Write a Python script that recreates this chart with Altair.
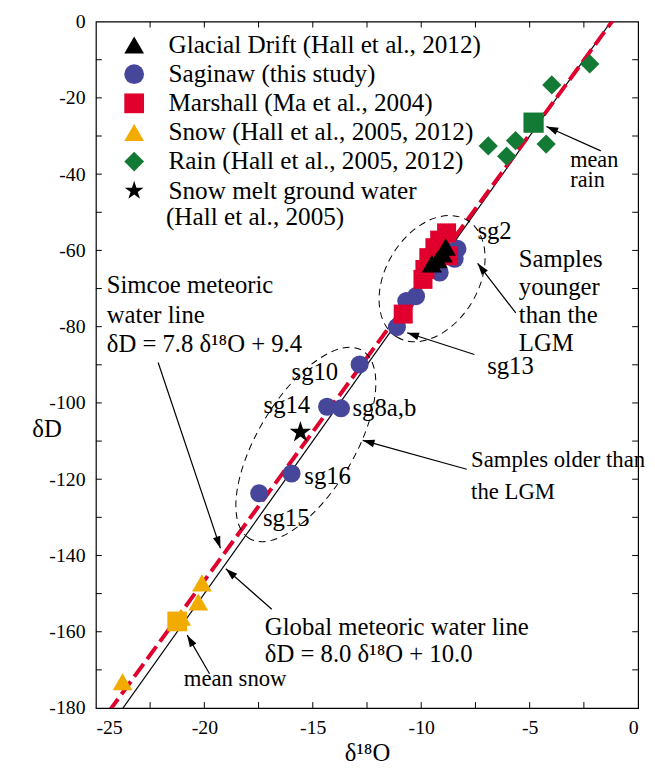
import math
import altair as alt
import pandas as pd

FONT = "Liberation Serif"
W, H = 549, 695
X_DOMAIN = [-25, 0]
Y_DOMAIN = [-180, 0]

# ---------------- data ----------------
series_names = [
    "Glacial Drift (Hall et al., 2012)",
    "Saginaw (this study)",
    "Marshall (Ma et al., 2004)",
    "Snow (Hall et al., 2005, 2012)",
    "Rain (Hall et al., 2005, 2012)",
    "Snow melt ground water",
]
glacial_x = [-9.51, -9.24, -9.01, -8.87]
glacial_y = [-63.5, -62.4, -60.9, -59.1]
saginaw_x = [-8.33, -8.46, -9.15, -10.24, -10.69, -11.12, -12.84, -14.34, -13.70, -15.98, -17.47]
saginaw_y = [-59.6, -62.2, -65.8, -72.0, -73.3, -80.1, -89.9, -101.0, -101.4, -118.5, -123.7]
marshall_x = [-8.83, -9.15, -9.37, -8.74, -9.65, -9.83, -9.92, -10.83]
marshall_y = [-55.4, -57.3, -59.3, -61.4, -61.9, -65.0, -67.6, -76.7]
snow_x = [-20.11, -20.28, -21.07, -23.77]
snow_y = [-147.2, -152.2, -156.2, -173.1]
rain_x = [-2.23, -3.98, -5.65, -6.06, -4.24, -6.91]
rain_y = [-11.1, -16.6, -31.2, -35.3, -32.1, -32.6]
melt_x = [-15.57]
melt_y = [-107.7]
mean_snow_x, mean_snow_y = [-21.25], [-157.3]
mean_rain_x, mean_rain_y = [-4.82], [-26.5]

# meteoric water lines: dD = slope * d18O + intercept
line_names = ["Global", "Simcoe"]
line_slopes = [8.0, 7.8]
line_intercepts = [10.0, 9.4]

# ellipses (centre in data units)
ell_x = [-9.50, -15.32]
ell_y = [-67.4, -110.9]

# annotations
ann_text = ["Simcoe meteoric", "water line", "δD = 7.8 δ¹⁸O + 9.4",
            "Global meteoric water line", "δD = 8.0 δ¹⁸O + 10.0",
            "mean snow", "mean", "rain", "sg2",
            "Samples", "younger", "than the", "LGM", "sg13",
            "sg10", "sg14", "sg8a,b", "sg16", "sg15",
            "Samples older than", "the LGM", "(Hall et al., 2005)"]
ann_x = [-24.50, -24.50, -24.50, -17.21, -17.21, -20.95, -3.13, -3.13, -7.41,
         -5.50, -5.50, -5.50, -5.50, -6.96,
         -15.98, -17.27, -13.17, -15.39, -17.30,
         -7.70, -7.70, -21.77]
ann_y = [-69.2, -76.9, -84.7, -158.8, -165.8, -172.3, -36.3, -41.6, -54.9,
         -62.4, -69.7, -76.9, -84.2, -90.4,
         -92.0, -100.5, -101.3, -119.2, -130.3,
         -115.0, -123.5, -51.3]
ann_size = [25, 25, 25, 25, 25, 23, 22.5, 22.5, 25,
            25, 25, 25, 25, 25,
            25, 25, 25, 25, 25,
            23, 23, 25.5]

# arrows: tail -> head
arr_tx = [-22.13, -16.89, -19.76, -1.72, -7.55, -5.64, -7.90]
arr_ty = [-89.4, -154.1, -171.0, -33.9, -87.3, -76.4, -117.4]
arr_hx = [-19.26, -19.01, -20.79, -4.23, -10.65, -7.40, -12.70]
arr_hy = [-138.1, -143.5, -160.9, -27.5, -81.6, -63.4, -109.8]

x_ticks = [-22.5, -20, -17.5, -15, -12.5, -10, -7.5, -5, -2.5]
y_ticks = [-170, -160, -150, -140, -130, -120, -110, -100, -90, -80, -70,
           -60, -50, -40, -30, -20, -10]
x_labels = [-25, -20, -15, -10, -5, 0]
y_labels = [-180, -160, -140, -120, -100, -80, -60, -40, -20, 0]

# ---------------- styles ----------------
series_colors = ["black", "#46469b", "#e1002d", "#f2ab00", "#137a36", "black"]
STAR = ("M0,-1L0.2245,-0.309L0.951,-0.309L0.363,0.118L0.588,0.809L0,0.382"
        "L-0.588,0.809L-0.363,0.118L-0.951,-0.309L-0.2245,-0.309Z")
series_shapes = ["triangle-up", "circle", "square", "triangle-up", "diamond", STAR]
size_map = {series_names[0]: 420, series_names[1]: 335, series_names[2]: 370,
            series_names[3]: 400, series_names[4]: 380, series_names[5]: 520}
ARROW = "M0,0L0.32,1L-0.32,1Z"

# ---------------- tables ----------------
rows = []
for name, xs_, ys_ in [(series_names[1], saginaw_x, saginaw_y),
                       (series_names[2], marshall_x, marshall_y),
                       (series_names[0], glacial_x, glacial_y),
                       (series_names[3], snow_x, snow_y),
                       (series_names[4], rain_x, rain_y),
                       (series_names[5], melt_x, melt_y)]:
    for a, b in zip(xs_, ys_):
        rows.append({"series": name, "x": a, "y": b, "sz": size_map[name]})
pts = pd.DataFrame(rows)

line_rows = []
for n, s, c in zip(line_names, line_slopes, line_intercepts):
    for xv in X_DOMAIN:
        line_rows.append({"name": n, "x": xv, "y": s * xv + c})
lines = pd.DataFrame(line_rows)

ann = pd.DataFrame({"x": ann_x, "y": ann_y, "text": ann_text, "fs": ann_size})

sx = W / (X_DOMAIN[1] - X_DOMAIN[0])
sy = H / (Y_DOMAIN[1] - Y_DOMAIN[0])
angles = []
for tx, ty, hx, hy in zip(arr_tx, arr_ty, arr_hx, arr_hy):
    dx = (hx - tx) * sx
    dy = -(hy - ty) * sy
    angles.append(math.degrees(math.atan2(dx, -dy)) % 360)
arrows = pd.DataFrame({"tx": arr_tx, "ty": arr_ty, "hx": arr_hx, "hy": arr_hy,
                       "ang": angles})

xscale = alt.Scale(domain=X_DOMAIN, nice=False, zero=False)
yscale = alt.Scale(domain=Y_DOMAIN, nice=False, zero=False)

x_axis = alt.Axis(values=x_labels, ticks=False, domain=False, grid=False,
                  labelFontSize=20, labelPadding=10, labelExpr="datum.value + ''",
                  title="δ¹⁸O", titleFontSize=25, titlePadding=3)
y_axis = alt.Axis(values=y_labels, ticks=False, domain=False, grid=False,
                  labelFontSize=20, labelPadding=11, labelExpr="datum.value + ''",
                  title="δD", titleFontSize=25, titleAngle=0, titleX=-50,
                  titleY=412, titleAlign="center", titleBaseline="middle")

legend = alt.Legend(title=None, orient="none", legendX=26, legendY=11,
                    labelFont=FONT, labelFontSize=25.5, labelColor="black",
                    labelOffset=22, rowPadding=2.5, padding=0, labelLimit=600,
                    symbolSize=400, symbolStrokeWidth=0)


def X(f, t="quantitative"):
    return alt.X(f, type=t, scale=xscale, axis=x_axis)


def Y(f, t="quantitative"):
    return alt.Y(f, type=t, scale=yscale, axis=y_axis)


gmwl = alt.Chart(lines).transform_filter(alt.datum.name == "Global").mark_line(
    color="black", strokeWidth=1.2, clip=True).encode(x=X("x"), y=Y("y"))
simcoe = alt.Chart(lines).transform_filter(alt.datum.name == "Simcoe").mark_line(
    color="#e1002d", strokeWidth=4, strokeDash=[16, 6], clip=True).encode(x=X("x"), y=Y("y"))

ell_df = pd.DataFrame({"x": ell_x, "y": ell_y})
ell1 = alt.Chart(ell_df.iloc[[0]]).mark_point(
    shape="M-1,0A1,0.68,0,1,1,1,0A1,0.68,0,1,1,-1,0Z", size=138 ** 2, angle=301,
    filled=False, color="black", strokeWidth=1, strokeDash=[7, 5], opacity=1
).encode(x=X("x"), y=Y("y"))
ell2 = alt.Chart(ell_df.iloc[[1]]).mark_point(
    shape="M-1,0A1,0.44,0,1,1,1,0A1,0.44,0,1,1,-1,0Z", size=222 ** 2, angle=301,
    filled=False, color="black", strokeWidth=1, strokeDash=[7, 5], opacity=1
).encode(x=X("x"), y=Y("y"))

arrow_lines = alt.Chart(arrows).mark_rule(color="black", strokeWidth=1.2).encode(
    x=X("tx"), y=Y("ty"), x2="hx", y2="hy")
arrow_heads = alt.Chart(arrows).mark_point(
    shape=ARROW, size=576, filled=True, color="black", opacity=1, strokeWidth=0
).encode(x=X("hx"), y=Y("hy"), angle=alt.Angle("ang:Q", scale=None))

points = alt.Chart(pts).mark_point(filled=True, opacity=1, strokeWidth=0).encode(
    x=X("x"), y=Y("y"),
    color=alt.Color("series:N", scale=alt.Scale(domain=series_names, range=series_colors),
                    legend=legend, sort=series_names),
    shape=alt.Shape("series:N", scale=alt.Scale(domain=series_names, range=series_shapes),
                    legend=legend, sort=series_names),
    size=alt.Size("sz:Q", scale=None),
)

mean_snow = alt.Chart(pd.DataFrame({"x": mean_snow_x, "y": mean_snow_y})).mark_point(
    shape="square", size=400, filled=True, color="#f2ab00", opacity=1, strokeWidth=0
).encode(x=X("x"), y=Y("y"))
mean_rain = alt.Chart(pd.DataFrame({"x": mean_rain_x, "y": mean_rain_y})).mark_point(
    shape="square", size=420, filled=True, color="#137a36", opacity=1, strokeWidth=0
).encode(x=X("x"), y=Y("y"))

texts = alt.Chart(ann).mark_text(font=FONT, align="left", baseline="middle",
                                 color="black").encode(
    x=X("x"), y=Y("y"), text="text:N", size=alt.Size("fs:Q", scale=None))

TL = 6
xt = pd.DataFrame({"v": x_ticks, "lo": Y_DOMAIN[0], "hi": Y_DOMAIN[1]})
yt = pd.DataFrame({"v": y_ticks, "lo": X_DOMAIN[0], "hi": X_DOMAIN[1]})
t_bottom = alt.Chart(xt).mark_rule(color="black", strokeWidth=1, y2Offset=-TL).encode(
    x=X("v"), y=Y("lo"), y2="lo")
t_top = alt.Chart(xt).mark_rule(color="black", strokeWidth=1, y2Offset=TL).encode(
    x=X("v"), y=Y("hi"), y2="hi")
t_left = alt.Chart(yt).mark_rule(color="black", strokeWidth=1, x2Offset=TL).encode(
    y=Y("v"), x=X("lo"), x2="lo")
t_right = alt.Chart(yt).mark_rule(color="black", strokeWidth=1, x2Offset=-TL).encode(
    y=Y("v"), x=X("hi"), x2="hi")

chart = alt.layer(
    gmwl, simcoe, ell1, ell2, arrow_lines, arrow_heads,
    points, mean_snow, mean_rain, texts,
    t_bottom, t_top, t_left, t_right,
).properties(
    width=W, height=H, autosize="none",
    padding={"left": 89, "top": 9, "right": 9, "bottom": 58},
).configure_view(stroke="black", strokeWidth=1.2).configure_axis(
    labelFont=FONT, titleFont=FONT, labelColor="black", titleColor="black",
    titleFontWeight="normal"
)

chart.save("out.html", embed_options={"renderer": "svg", "actions": False})
